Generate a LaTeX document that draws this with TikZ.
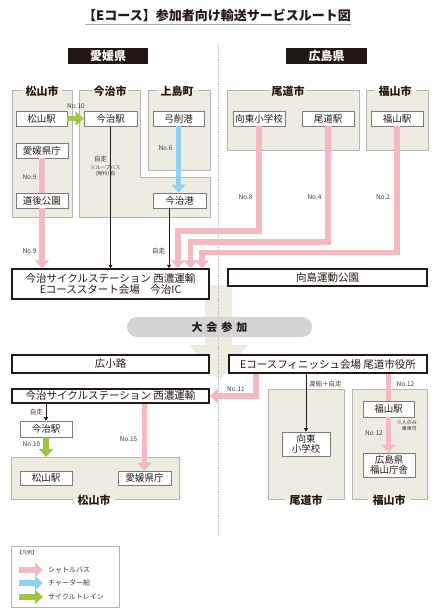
\documentclass[tikz,border=0pt]{standalone}
\usepackage{fontspec}
\setmainfont{Noto Sans CJK JP}
\usetikzlibrary{arrows.meta,calc}
\definecolor{shuttle}{HTML}{F4B8C1}
\definecolor{ship}{HTML}{8FD1F3}
\definecolor{train}{HTML}{9DC53F}
\definecolor{beige}{HTML}{EEECE1}
\definecolor{rgray}{HTML}{B4B4B4}
\definecolor{ngray}{HTML}{7A7A7A}
\definecolor{dark}{HTML}{231815}
\definecolor{pillgray}{HTML}{D4D4D4}
\definecolor{lblc}{HTML}{3A3A3A}
\newcommand\myfs[1]{\fontsize{#1}{#1}\selectfont}
\begin{document}
\begin{tikzpicture}[x=1pt,y=-1pt,
  stn/.style={draw=ngray, line width=0.7pt, fill=white, inner sep=0pt, minimum height=15pt, font=\myfs{9.5}, text=dark},
  mainbox/.style={draw=dark, line width=1.5pt, fill=white, inner sep=0pt, font=\fontsize{10.5}{11.5}\selectfont, text=dark},
  lbl/.style={font=\myfs{6.5}, text=lblc, inner sep=0pt},
  tinylbl/.style={font=\myfs{5}, text=lblc, inner sep=0pt},
  rtitle/.style={font=\bfseries\myfs{11}, text=dark, inner sep=0pt},
  rb/.style={draw=rgray, line width=0.9pt},
  pinkline/.style={draw=shuttle, line width=5.5pt},
  pinkarr/.style={draw=shuttle, line width=5.5pt, -{Triangle[width=14pt,length=8pt]}},
  bluearr/.style={draw=ship, line width=5.5pt, -{Triangle[width=14pt,length=8pt]}},
  greenarr/.style={draw=train, line width=5.5pt, -{Triangle[width=14pt,length=8pt]}},
  thinarr/.style={draw=dark, line width=0.6pt, -{Triangle[width=4pt,length=3.5pt]}}
]
\useasboundingbox (0,0) rectangle (436,611);

% title
\node[font=\bfseries\myfs{13}, text=dark, inner sep=0pt] (title) at (217,15) {【Eコース】参加者向け輸送サービスルート図};
\draw[gray!70, line width=1pt] (85,24.5) -- (351,24.5);

% prefecture headers
\node[fill=dark, text=white, font=\bfseries\myfs{12}, minimum width=80pt, minimum height=16pt, inner sep=0pt] (ehime) at (108,56) {愛媛県};
\node[fill=dark, text=white, font=\bfseries\myfs{12}, minimum width=81pt, minimum height=16pt, inner sep=0pt] (hiroshima) at (326.5,56) {広島県};

% ---- top regions ----
\fill[beige] (12,90) rectangle (72,217);
\draw[rb] (62,90) -- (72,90) -- (72,217) -- (12,217) -- (12,90) -- (23,90);
\node[rtitle] (rMatsu) at (42,91.5) {松山市};

\fill[beige] (79,90) -- (140,90) -- (140,177) -- (210,177) -- (210,217) -- (79,217) -- cycle;
\draw[rb] (128,90) -- (140,90) -- (140,177) -- (210,177) -- (210,217) -- (79,217) -- (79,90) -- (92,90);
\node[rtitle] (rImabari) at (110,91.5) {今治市};

\fill[beige] (148,90) rectangle (210,170);
\draw[rb] (198,90) -- (210,90) -- (210,170) -- (148,170) -- (148,90) -- (157,90);
\node[rtitle] (rKami) at (177,91.5) {上島町};

\fill[beige] (227,90) rectangle (359,150);
\draw[rb] (307,90) -- (359,90) -- (359,150) -- (227,150) -- (227,90) -- (269,90);
\node[rtitle] (rOno) at (288,91.5) {尾道市};

\fill[beige] (366,90) rectangle (428,150);
\draw[rb] (416,90) -- (428,90) -- (428,150) -- (366,150) -- (366,90) -- (374,90);
\node[rtitle] (rFuku) at (395,91.5) {福山市};

% ---- bottom regions ----
\fill[beige] (268,389) rectangle (344,499);
\draw[rb] (285,499) -- (268,499) -- (268,389) -- (344,389) -- (344,499) -- (327,499);
\node[rtitle] (rOno2) at (306,500) {尾道市};

\fill[beige] (352,389) rectangle (427,499);
\draw[rb] (368,499) -- (352,499) -- (352,389) -- (427,389) -- (427,499) -- (410,499);
\node[rtitle] (rFuku2) at (389,500) {福山市};

\fill[beige] (11,457) rectangle (179,499);
\draw[rb] (73,499) -- (11,499) -- (11,457) -- (179,457) -- (179,499) -- (115,499);
\node[rtitle] (rMatsu2) at (94,500) {松山市};
\coordinate (mtreg) at (94,457);

% big beige arrow
\fill[beige] (205,285) -- (232,285) -- (232,345) -- (248,345) -- (218.5,381) -- (189,345) -- (205,345) -- cycle;

% divider
\draw[gray!60, line width=1pt, dash pattern=on 1.2pt off 1.2pt] (218.5,45) -- (218.5,535);

% pill
\node[fill=pillgray, rounded corners=10pt, minimum width=185pt, minimum height=20pt, inner sep=0pt, font=\bfseries\myfs{11}, text=dark] (taikai) at (219.5,327) {大\hspace{4pt}会\hspace{4pt}参\hspace{4pt}加};

% main boxes
\node[mainbox, minimum width=197pt, minimum height=30pt, align=center] (start) at (110.5,284) {今治サイクルステーション 西濃運輸\\Eコーススタート会場　今治IC};
\node[mainbox, minimum width=199pt, minimum height=17pt] (mukai) at (327.5,277.5) {向島運動公園};
\node[mainbox, minimum width=197pt, minimum height=18pt] (hiro) at (110.5,364) {広小路};
\node[mainbox, minimum width=198pt, minimum height=18pt] (finish) at (328,364) {Eコースフィニッシュ会場 尾道市役所};
\node[mainbox, minimum width=197pt, minimum height=14pt] (start2) at (110.5,396) {今治サイクルステーション 西濃運輸};

% stations top
\node[stn, minimum width=51pt] (mtst) at (41.5,118.5) {松山駅};
\node[stn, minimum width=53pt] (imst) at (110.5,118.5) {今治駅};
\node[stn, minimum width=51pt] (yuge) at (178.5,118.5) {弓削港};
\node[stn, minimum width=52pt] (kencho) at (42,150.5) {愛媛県庁};
\node[stn, minimum width=52pt] (dogo) at (42,200.5) {道後公園};
\node[stn, minimum width=53pt] (port) at (179.5,200.5) {今治港};
\node[stn, minimum width=52pt] (kotou) at (259,118.5) {向東小学校};
\node[stn, minimum width=52pt] (onost) at (328,118.5) {尾道駅};
\node[stn, minimum width=52pt] (fkst) at (397,118.5) {福山駅};

% stations bottom
\node[stn, minimum width=52pt, minimum height=16pt] (imst2) at (46,429) {今治駅};
\node[stn, minimum width=52pt, minimum height=14pt] (mtst2) at (46,478) {松山駅};
\node[stn, minimum width=53pt, minimum height=14pt] (kencho2) at (144.5,478) {愛媛県庁};
\node[stn, minimum width=48pt, minimum height=24pt, align=center, font=\fontsize{9.5}{10.5}\selectfont] (kotou2) at (306,444) {向東\\小学校};
\node[stn, minimum width=51pt, minimum height=16pt] (fkst2) at (388.5,409) {福山駅};
\node[stn, minimum width=52pt, minimum height=24pt, align=center, font=\fontsize{9.5}{10.5}\selectfont] (fkcho) at (389,465) {広島県\\福山庁舎};

% connectors top
\draw[greenarr] (mtst.east) -- (imst.west);
\draw[bluearr] (yuge.south) -- (yuge.south |- port.north);
\draw[pinkline] (kencho.south) -- (dogo.north);
\draw[pinkarr] (dogo.south) -- (dogo.south |- start.north);
\draw[thinarr] (imst.south) -- (imst.south |- start.north);
\draw[thinarr] ([xshift=-10.5pt]port.south) -- ([xshift=-10.5pt]port.south |- start.north);
\coordinate (c8) at (178,231);
\coordinate (c4) at (190.5,242);
\coordinate (c2) at (202,252.5);
\draw[pinkarr] (kotou.south) |- (c8) -- (c8 |- start.north);
\draw[pinkarr] (onost.south) |- (c4) -- (c4 |- start.north);
\draw[pinkarr] (fkst.south) |- (c2) -- (c2 |- start.north);

% connectors bottom
\coordinate (c11) at (256,396);
\draw[pinkarr] (c11 |- finish.south) -- (c11) -- (c11 -| start2.east);
\draw[thinarr] (kotou2.north |- finish.south) -- (kotou2.north);
\draw[pinkline] (fkst2.north |- finish.south) -- (fkst2.north);
\draw[pinkarr] (fkst2.south) -- (fkst2.south |- fkcho.north);
\draw[thinarr] (imst2.north |- start2.south) -- (imst2.north);
\draw[greenarr] (imst2.south) -- (imst2.south |- mtreg);
\draw[pinkarr] (kencho2.north |- start2.south) -- (kencho2.north);

% labels
\node[lbl] (l10) at (76,106) {No.10};
\node[lbl] (l6) at (165.5,148) {No.6};
\node[lbl] (l9a) at (29.5,177) {No.9};
\node[lbl] (l9b) at (29.5,251) {No.9};
\node[lbl] (ljisou1) at (100.5,159) {自走};
\node[tinylbl] (lloop) at (105.5,167.3) {※ループバス};
\node[tinylbl] (lfree) at (105.5,174.3) {(無料) 有};
\node[lbl] (ljisou2) at (158.5,251) {自走};
\node[lbl] (l8) at (245.5,197) {No.8};
\node[lbl] (l4) at (314.5,197) {No.4};
\node[lbl] (l2) at (383,197) {No.2};
\node[lbl] (ljisou3) at (36.5,412.3) {自走};
\node[lbl] (l10b) at (31.5,444) {No.10};
\node[lbl] (l15) at (128.5,439.3) {No.15};
\node[lbl] (l11) at (236,389) {No.11};
\node[lbl, anchor=west] (lferry) at (309,384) {渡船＋自走};
\node[lbl] (l12a) at (405.5,384) {No.12};
\node[lbl] (l12b) at (374,433) {No.12};
\node[tinylbl, anchor=east] (lhito) at (417,422.3) {※人のみ};
\node[tinylbl, anchor=east] (ljou) at (417,428.7) {乗車可};

% legend
\draw[draw=rgray, line width=0.8pt, fill=white] (11,546) rectangle (119,607);
\node[tinylbl, anchor=west] (lhanrei) at (17,553) {【凡例】};
\coordinate (la1) at (19,570); \coordinate (lb1) at (43,570);
\coordinate (la2) at (19,583); \coordinate (lb2) at (43,583);
\coordinate (la3) at (19,597); \coordinate (lb3) at (43,597);
\draw[pinkarr] (la1) -- (lb1);
\draw[bluearr] (la2) -- (lb2);
\draw[greenarr] (la3) -- (lb3);
\node[font=\myfs{7}, text=lblc, inner sep=0pt, anchor=west] (lg1) at (48,570) {シャトルバス};
\node[font=\myfs{7}, text=lblc, inner sep=0pt, anchor=west] (lg2) at (48,583) {チャーター船};
\node[font=\myfs{7}, text=lblc, inner sep=0pt, anchor=west] (lg3) at (48,597) {サイクルトレイン};
\end{tikzpicture}
\end{document}
